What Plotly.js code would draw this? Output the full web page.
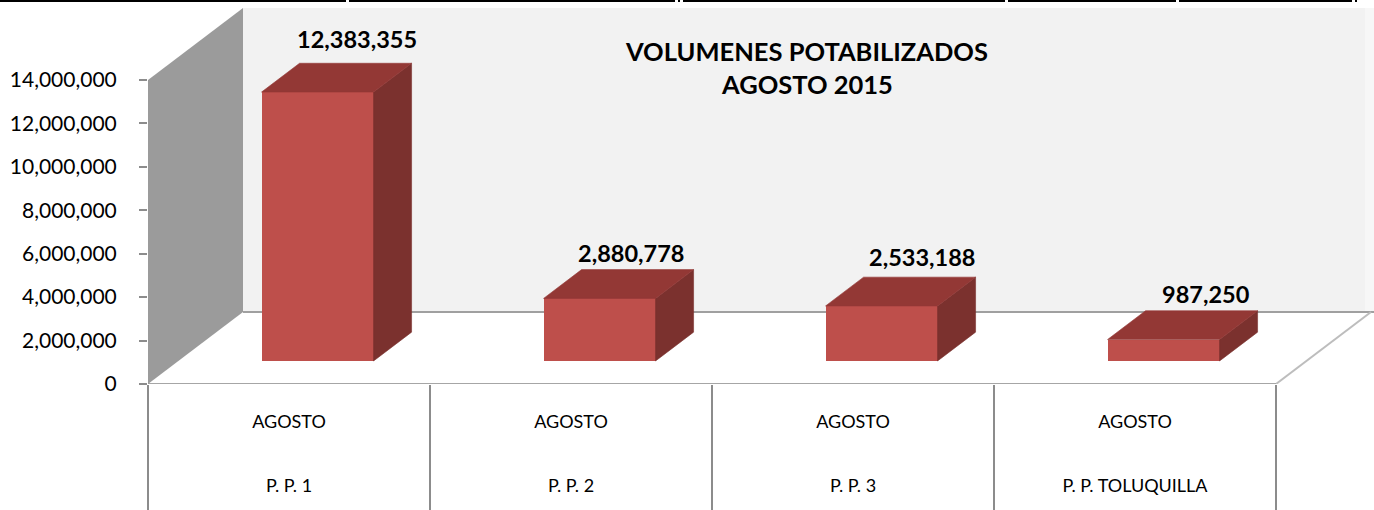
<!DOCTYPE html>
<html>
<head>
<meta charset="utf-8">
<script src="https://cdn.plot.ly/plotly-3.0.1.min.js"></script>
<style>html,body{margin:0;padding:0;background:#fff;overflow:hidden}</style>
</head>
<body>
<div id="chart" style="width:1374px;height:510px"></div>
<script>
// ---- data ----
const plants = ['P. P. 1', 'P. P. 2', 'P. P. 3', 'P. P. TOLUQUILLA'];
const months = ['AGOSTO', 'AGOSTO', 'AGOSTO', 'AGOSTO'];
const volumes = [12383355, 2880778, 2533188, 987250];
const yTicks = [0, 2000000, 4000000, 6000000, 8000000, 10000000, 12000000, 14000000];

// ---- geometry of the oblique projection (axis units) ----
const W = 1374, H = 510, mL = 148, mT = 8, mB = 126;
const pxPerCat = 282;
const pxPerVal = 304 / 14000000;
const xMin = -0.5, xMax = xMin + (W - mL) / pxPerCat;
const yMax = (H - mB - mT) / pxPerVal;
const catEnd = xMin + plants.length;
const depthX = 95 / pxPerCat, depthY = 72 / pxPerVal;       // wall depth
const frontK = 0.32, backK = 0.72;                          // bar depth inside the floor
const barW = 112 / pxPerCat;
const barCx = i => i + frontK * depthX - 0.0065;
const dX = (backK - frontK) * depthX, dY = (backK - frontK) * depthY;
const base = frontK * depthY;
const wallSeam = xMin + (1365 - mL) / pxPerCat;

const poly = (x, y, color) => ({
  type: 'scatter', mode: 'lines', x: x.concat(x[0]), y: y.concat(y[0]),
  fill: 'toself', fillcolor: color, line: {width: 0.6, color: color},
  hoverinfo: 'skip', showlegend: false
});

// side and top faces of each bar, from its value
const sides = volumes.map((v, i) => {
  const r = barCx(i) + barW / 2;
  return poly([r, r + dX, r + dX, r], [base, base + dY, base + v + dY, base + v], '#7B312E');
});
const tops = volumes.map((v, i) => {
  const l = barCx(i) - barW / 2, r = l + barW;
  return poly([l, r, r + dX, l + dX], [base + v, base + v, base + v + dY, base + v + dY], '#933835');
});
const fronts = {
  type: 'bar', x: volumes.map((v, i) => barCx(i)), y: volumes, base: volumes.map(() => base),
  width: barW, marker: {color: '#BE4F4B', line: {width: 0}}, hoverinfo: 'skip', showlegend: false
};
const ghost = {
  type: 'scatter', mode: 'markers', x: plants.map((p, i) => i), y: plants.map(() => 0),
  xaxis: 'x2', marker: {opacity: 0}, hoverinfo: 'skip', showlegend: false
};

// nudges of the value labels relative to the bar's back top edge (px)
const labelShiftX = [1, -7, 2, 4];
const labelShiftY = [24, 17, 20, 17];
const valueLabels = volumes.map((v, i) => ({
  xref: 'x', yref: 'y', x: barCx(i) + dX, y: base + v + dY,
  xshift: labelShiftX[i], yshift: labelShiftY[i], showarrow: false,
  text: v.toLocaleString('en-US'),
  font: {family: 'Lato, sans-serif', size: 23.5, color: '#000', weight: 700},
  xanchor: 'center', yanchor: 'middle'
}));

const titleLines = ['VOLUMENES POTABILIZADOS', 'AGOSTO 2015'];
const titleY = [51, 84];
const titleNotes = titleLines.map((t, i) => ({
  xref: 'paper', yref: 'paper', x: (807 - mL) / (W - mL), y: 1 - (titleY[i] - mT) / (H - mB - mT),
  showarrow: false, text: t, xanchor: 'center', yanchor: 'middle',
  font: {family: 'Lato, sans-serif', size: 25.5, color: '#000', weight: 700}
}));

const region = (x, y, color) => ({
  type: 'path', layer: 'below', xref: 'x', yref: 'y',
  path: x.map((p, i) => (i ? 'L' : 'M') + p + ',' + y[i]).join(' ') + ' Z',
  fillcolor: color, line: {width: 0}
});
const seg = (x0, y0, x1, y1, color, width) => ({
  type: 'line', layer: 'below', xref: 'x', yref: 'y', x0, y0, x1, y1, line: {color, width}
});

// black rule along the very top of the picture, with its small breaks
const ruleBreaks = [0, 346, 349, 675, 678, 680, 683, 1005, 1008, 1176, 1179, 1352, 1355, 1357];
const topRule = [];
for (let i = 0; i < ruleBreaks.length; i += 2) {
  topRule.push({
    type: 'rect', xref: 'paper', yref: 'paper', layer: 'above',
    x0: (ruleBreaks[i] - mL) / (W - mL), x1: (ruleBreaks[i + 1] - mL) / (W - mL),
    y0: 1 + (mT - 2) / (H - mB - mT), y1: 1 + mT / (H - mB - mT),
    fillcolor: '#000', line: {width: 0}
  });
}

const shapes = [
  region([xMin + depthX, wallSeam, wallSeam, xMin + depthX], [depthY, depthY, yMax, yMax], '#F2F2F2'),
  region([wallSeam, xMax, xMax, wallSeam], [depthY, depthY, yMax, yMax], '#F7F7F7'),
  region([xMin, catEnd, catEnd + depthX, xMin + depthX], [0, 0, depthY, depthY], '#FFFFFF'),
  region([xMin, xMin + depthX, xMin + depthX, xMin], [0, depthY, yMax, yMax - depthY], '#9B9B9B'),
  seg(xMin + depthX, depthY, xMax, depthY, '#A0A0A0', 2),
  seg(catEnd, 0, catEnd + depthX, depthY, '#BDBDBD', 2),
  seg(xMin, 0, catEnd, 0, '#A6A6A6', 2),
  seg(xMin, 0, xMin, yTicks[yTicks.length - 1], '#9B9B9B', 2)
].concat(topRule);

const layout = {
  width: W, height: H, margin: {l: mL, r: 0, t: mT, b: mB, pad: 0},
  paper_bgcolor: '#fff', plot_bgcolor: 'rgba(0,0,0,0)', showlegend: false,
  font: {family: 'Lato, sans-serif', color: '#000'},
  xaxis: {
    range: [xMin, xMax], tickmode: 'array', tickvals: months.map((m, i) => i), ticktext: months,
    ticks: 'outside', ticklen: 21, tickcolor: 'rgba(0,0,0,0)', showgrid: false, zeroline: false,
    showline: false, tickfont: {size: 18}, fixedrange: true,
    minor: {tickmode: 'array', tickvals: plants.map((p, i) => i - 0.5).concat(plants.length - 0.5),
            ticks: 'outside', ticklen: mB, tickwidth: 2, tickcolor: '#8C8C8C', showgrid: false}
  },
  xaxis2: {
    overlaying: 'x', anchor: 'y', side: 'bottom', range: [xMin, xMax], tickmode: 'array',
    tickvals: plants.map((p, i) => i), ticktext: plants,
    ticks: 'outside', ticklen: 85, tickcolor: 'rgba(0,0,0,0)', showgrid: false, zeroline: false,
    showline: false, tickfont: {size: 18}, fixedrange: true
  },
  yaxis: {
    range: [0, yMax], tickmode: 'array', tickvals: yTicks, tickformat: ',d',
    ticks: 'outside', ticklen: 8, tickwidth: 2, tickcolor: '#8C8C8C', showgrid: false,
    zeroline: false, showline: false, tickfont: {size: 21}, ticklabelstandoff: 18, fixedrange: true
  },
  shapes: shapes,
  annotations: valueLabels.concat(titleNotes),
  bargap: 0
};

Plotly.newPlot('chart', [fronts].concat(sides, tops, [ghost]), layout, {displayModeBar: false, staticPlot: true});
</script>
</body>
</html>
